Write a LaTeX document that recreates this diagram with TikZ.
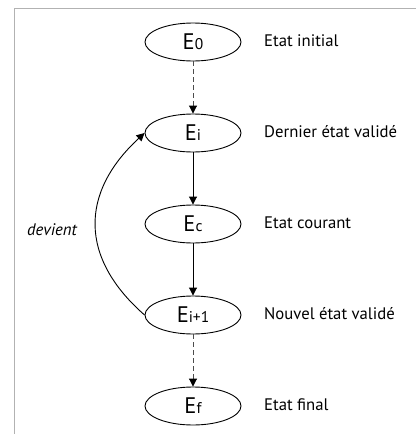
\documentclass[tikz,border=0pt]{standalone}
\usepackage{fontspec}
\setmainfont{PT Sans}
\usetikzlibrary{arrows.meta,shapes.geometric}
\begin{document}
\begin{tikzpicture}[x=1pt,y=-1pt,
  state/.style={draw,line width=0.9pt,ellipse,minimum width=96pt,minimum height=38pt,inner sep=0pt,font=\fontsize{22.5}{24}\selectfont},
  lbl/.style={anchor=base west,inner sep=0pt,font=\fontsize{16.7}{19}\selectfont},
  arr/.style={line width=0.9pt,-{Triangle[length=8pt,width=8pt,color=black]}},
  darr/.style={arr,dash pattern=on 5pt off 3pt,draw=black!70}]
\useasboundingbox (0,0) rectangle (416,434);
\draw[line width=1pt,draw=black!30] (14,434) -- (14,8) -- (416,8);
\newcommand{\sbs}[1]{{\fontsize{15.5}{17}\selectfont #1}}
\node[state] (e0) at (193,42) {E\sbs{0}};
\node[state] (ei) at (193,133) {E\sbs{i}};
\node[state] (ec) at (193,224) {E\sbs{c}};
\node[state] (ei1) at (193,315) {E\sbs{i+1}};
\node[state] (ef) at (193,406) {E\sbs{f}};
\node[lbl] (l0) at (264,46.5) {Etat initial};
\node[lbl] (li) at (264,137.5) {Dernier état validé};
\node[lbl] (lc) at (264,228.5) {Etat courant};
\node[lbl] (li1) at (264,319.5) {Nouvel état validé};
\node[lbl] (lf) at (264,410.5) {Etat final};
\draw[darr] (e0) -- (ei);
\draw[arr] (ei) -- (ec);
\draw[arr] (ec) -- (ei1);
\draw[darr] (ei1) -- (ef);
\draw[arr] (ei1.west) .. controls (79.5,258) and (79.5,193) .. (ei.west);
\node[anchor=base west,inner sep=0pt,font=\fontsize{16.7}{19}\selectfont\itshape] (dv) at (27,235) {devient};
\end{tikzpicture}
\end{document}
